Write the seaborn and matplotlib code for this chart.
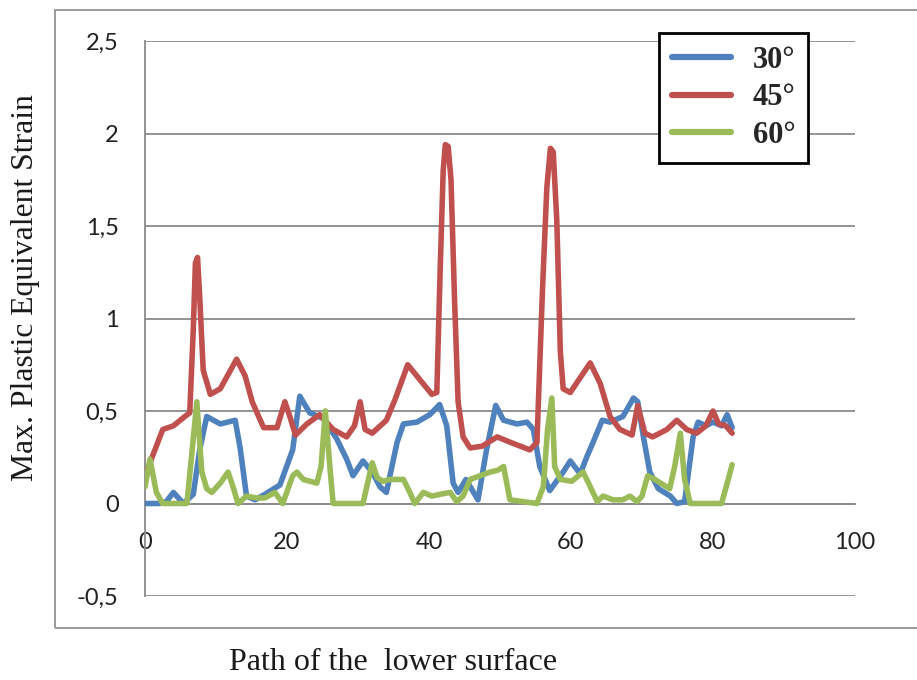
import numpy as np
import pandas as pd
import matplotlib
matplotlib.use('Agg')
import matplotlib.pyplot as plt
import seaborn as sns
from matplotlib.patches import Rectangle
from matplotlib.ticker import FuncFormatter
from matplotlib.font_manager import FontProperties

# ---------------- data ----------------
angles = ['30°', '45°', '60°']

x30 = [0, 2, 3, 4, 5.4, 6.8, 7.7, 8.7, 10.6, 12.7, 13.4, 14.3, 15.5, 16.9, 19, 20.8, 21.8,
       23.2, 25.1, 27, 28.4, 29.3, 30.7, 32, 33.1, 34, 35.5, 36.4, 38.3, 40.1, 41.5, 42.5,
       43.4, 44.1, 45.2, 46.9, 48.1, 49.4, 50.5, 52.4, 53.8, 54.7, 55.6, 57.0, 58.9, 59.9,
       61.3, 62.2, 63.1, 64.4, 65.5, 67.3, 68.8, 69.4, 70.2, 71.1, 72.3, 74, 74.9, 76, 77.2,
       77.9, 79, 80, 81.2, 82, 82.7]
y30 = [0, 0, 0.01, 0.06, 0.0, 0.05, 0.29, 0.47, 0.43, 0.45, 0.3, 0.04, 0.02, 0.05, 0.1, 0.29,
       0.58, 0.49, 0.46, 0.35, 0.24, 0.15, 0.23, 0.17, 0.09, 0.06, 0.33, 0.43, 0.44, 0.48,
       0.535, 0.42, 0.11, 0.06, 0.13, 0.02, 0.29, 0.53, 0.45, 0.43, 0.44, 0.4, 0.2, 0.07, 0.17,
       0.23, 0.16, 0.25, 0.33, 0.45, 0.44, 0.47, 0.57, 0.55, 0.36, 0.17, 0.08, 0.04, 0.0, 0.01,
       0.36, 0.44, 0.42, 0.44, 0.42, 0.48, 0.41]

x45 = [0, 1.2, 2.5, 4, 5.6, 6.3, 6.8, 7.1, 7.4, 7.7, 8.2, 9.2, 10.6, 12.9, 14.1, 15.1, 16.7,
       18.6, 19.7, 20.4, 21.2, 22.8, 24.6, 26.5, 28.4, 29.5, 30.3, 31, 32, 34, 35.2, 37, 38.7,
       40.4, 41.1, 41.6, 42.0, 42.3, 42.7, 43.1, 43.6, 44.1, 44.8, 45.8, 47.5, 49.6, 51.5,
       54.2, 55.2, 56.0, 56.6, 57.1, 57.5, 58.0, 58.5, 58.9, 59.9, 62.7, 64.1, 65.5, 66.9,
       68.6, 69.4, 70.4, 71.5, 73.5, 74.9, 76.3, 77.7, 79, 80, 80.8, 81.8, 82.7]
y45 = [0.15, 0.27, 0.4, 0.42, 0.47, 0.49, 0.94, 1.3, 1.33, 1.12, 0.72, 0.59, 0.62, 0.78, 0.69,
       0.55, 0.41, 0.41, 0.55, 0.47, 0.37, 0.43, 0.48, 0.4, 0.36, 0.42, 0.55, 0.4, 0.38, 0.45,
       0.56, 0.75, 0.67, 0.59, 0.6, 1.3, 1.8, 1.94, 1.93, 1.75, 1.1, 0.55, 0.36, 0.3, 0.31,
       0.36, 0.33, 0.29, 0.33, 1.17, 1.71, 1.92, 1.9, 1.53, 0.82, 0.62, 0.6, 0.76, 0.65, 0.47,
       0.4, 0.37, 0.53, 0.38, 0.36, 0.4, 0.45, 0.4, 0.38, 0.42, 0.5, 0.43, 0.42, 0.38]

x60 = [0, 0.7, 1.6, 2.5, 5.9, 6.8, 7.3, 8, 8.7, 9.4, 10.6, 11.7, 12.4, 13.1, 14.3, 15.7, 16.9,
       18.3, 19.4, 20.8, 21.4, 22.3, 24.2, 24.8, 25.4, 26.1, 26.5, 30.7, 32, 32.7, 33.5, 34.5,
       36.4, 37.3, 38, 39.2, 40.4, 41.6, 43, 43.9, 44.8, 45.8, 47.2, 48.6, 49.7, 50.5, 51.4,
       55.2, 56.1, 56.7, 57.3, 57.7, 58.5, 60.1, 61.7, 62.6, 63.7, 64.5, 65.9, 67.3, 68.3,
       69.3, 70, 70.8, 71.8, 73.9, 74.6, 75.4, 76, 76.8, 81.2, 82, 82.7]
y60 = [0.09, 0.24, 0.06, 0.0, 0.0, 0.35, 0.55, 0.17, 0.08, 0.06, 0.11, 0.17, 0.09, 0.0, 0.04,
       0.03, 0.03, 0.06, 0.0, 0.15, 0.17, 0.13, 0.11, 0.2, 0.5, 0.17, 0.0, 0.0, 0.22, 0.14, 0.12,
       0.13, 0.13, 0.06, 0.0, 0.06, 0.04, 0.05, 0.06, 0.01, 0.04, 0.13, 0.15, 0.17, 0.18, 0.2,
       0.02, 0.0, 0.09, 0.4, 0.57, 0.2, 0.13, 0.12, 0.17, 0.1, 0.01, 0.04, 0.02, 0.02, 0.04,
       0.01, 0.04, 0.15, 0.13, 0.08, 0.2, 0.38, 0.13, 0.0, 0.0, 0.11, 0.21]

x_ticks = [0, 20, 40, 60, 80, 100]
y_ticks = [-0.5, 0, 0.5, 1, 1.5, 2, 2.5]

colors = {'30°': '#4F81BD', '45°': '#C0504D', '60°': '#9BBB59'}

df = pd.concat([
    pd.DataFrame({'path': xs, 'strain': ys, 'angle': a})
    for a, xs, ys in zip(angles, [x30, x45, x60], [y30, y45, y60])
], ignore_index=True)

# ---------------- style ----------------
sns.set_style('white')
plt.rcParams['font.family'] = ['Lato', 'DejaVu Sans']
grey = '#8a8a8a'

fig = plt.figure(figsize=(9.17, 6.80), dpi=100)
ax = fig.add_axes([145 / 917, 1 - 596 / 680, 710 / 917, 555 / 680])

sns.lineplot(data=df, x='path', y='strain', hue='angle', hue_order=angles,
             palette=colors, estimator=None, sort=False, linewidth=4.0, ax=ax)
for ln in ax.lines:
    ln.set_solid_joinstyle('round')
    ln.set_solid_capstyle('round')
    ln.set_zorder(3)

ax.set_xlim(0, 100)
ax.set_ylim(-0.5, 2.5)
ax.set_xticks(x_ticks)
ax.set_yticks(y_ticks)
ax.yaxis.set_major_formatter(FuncFormatter(lambda v, p: f'{v:g}'.replace('.', ',')))
ax.grid(axis='y', color=grey, linewidth=1.3)
ax.grid(axis='x', visible=False)
ax.set_axisbelow(True)

for s in ['top', 'right']:
    ax.spines[s].set_visible(False)
ax.spines['bottom'].set_position(('data', 0))
for s in ['left', 'bottom']:
    ax.spines[s].set_color(grey)
    ax.spines[s].set_linewidth(1.3)

ax.tick_params(axis='x', direction='out', length=7.5, width=1.3, color=grey,
               pad=13, labelsize=17, labelcolor='#222222')
ax.tick_params(axis='y', direction='out', length=8, width=1.3, color=grey,
               pad=11, labelsize=17, labelcolor='#222222')
ax.set_xlabel('')
ax.set_ylabel('')

handles, labels = ax.get_legend_handles_labels()
leg = ax.legend(handles, labels, loc='upper left', bbox_to_anchor=(0.724, 1.0144),
                borderaxespad=0,
                prop=FontProperties(family='Liberation Serif', weight='bold', size=22),
                frameon=True, fancybox=False, edgecolor='black', framealpha=1,
                handlelength=1.95, handletextpad=0.7, borderpad=0.42, labelspacing=0.28)
leg.get_frame().set_linewidth(2)
for h in leg.get_lines():
    h.set_linewidth(4.5)

fig.text(26 / 917, 1 - 288 / 680, 'Max. Plastic Equivalent Strain', rotation=90,
         ha='center', va='center', family='Liberation Serif', size=22.8, color='#1a1a1a')
fig.text(393 / 917, 1 - 662 / 680, 'Path of the  lower surface', ha='center', va='center',
         family='Liberation Serif', size=23, color='#1a1a1a')

fig.patches.append(Rectangle((55 / 917, 1 - 628 / 680), (925 - 55) / 917, (628 - 10) / 680,
                             transform=fig.transFigure, fill=False, edgecolor='#9a9a9a',
                             linewidth=1.4, clip_on=False))

fig.savefig('out.png', dpi=100)
